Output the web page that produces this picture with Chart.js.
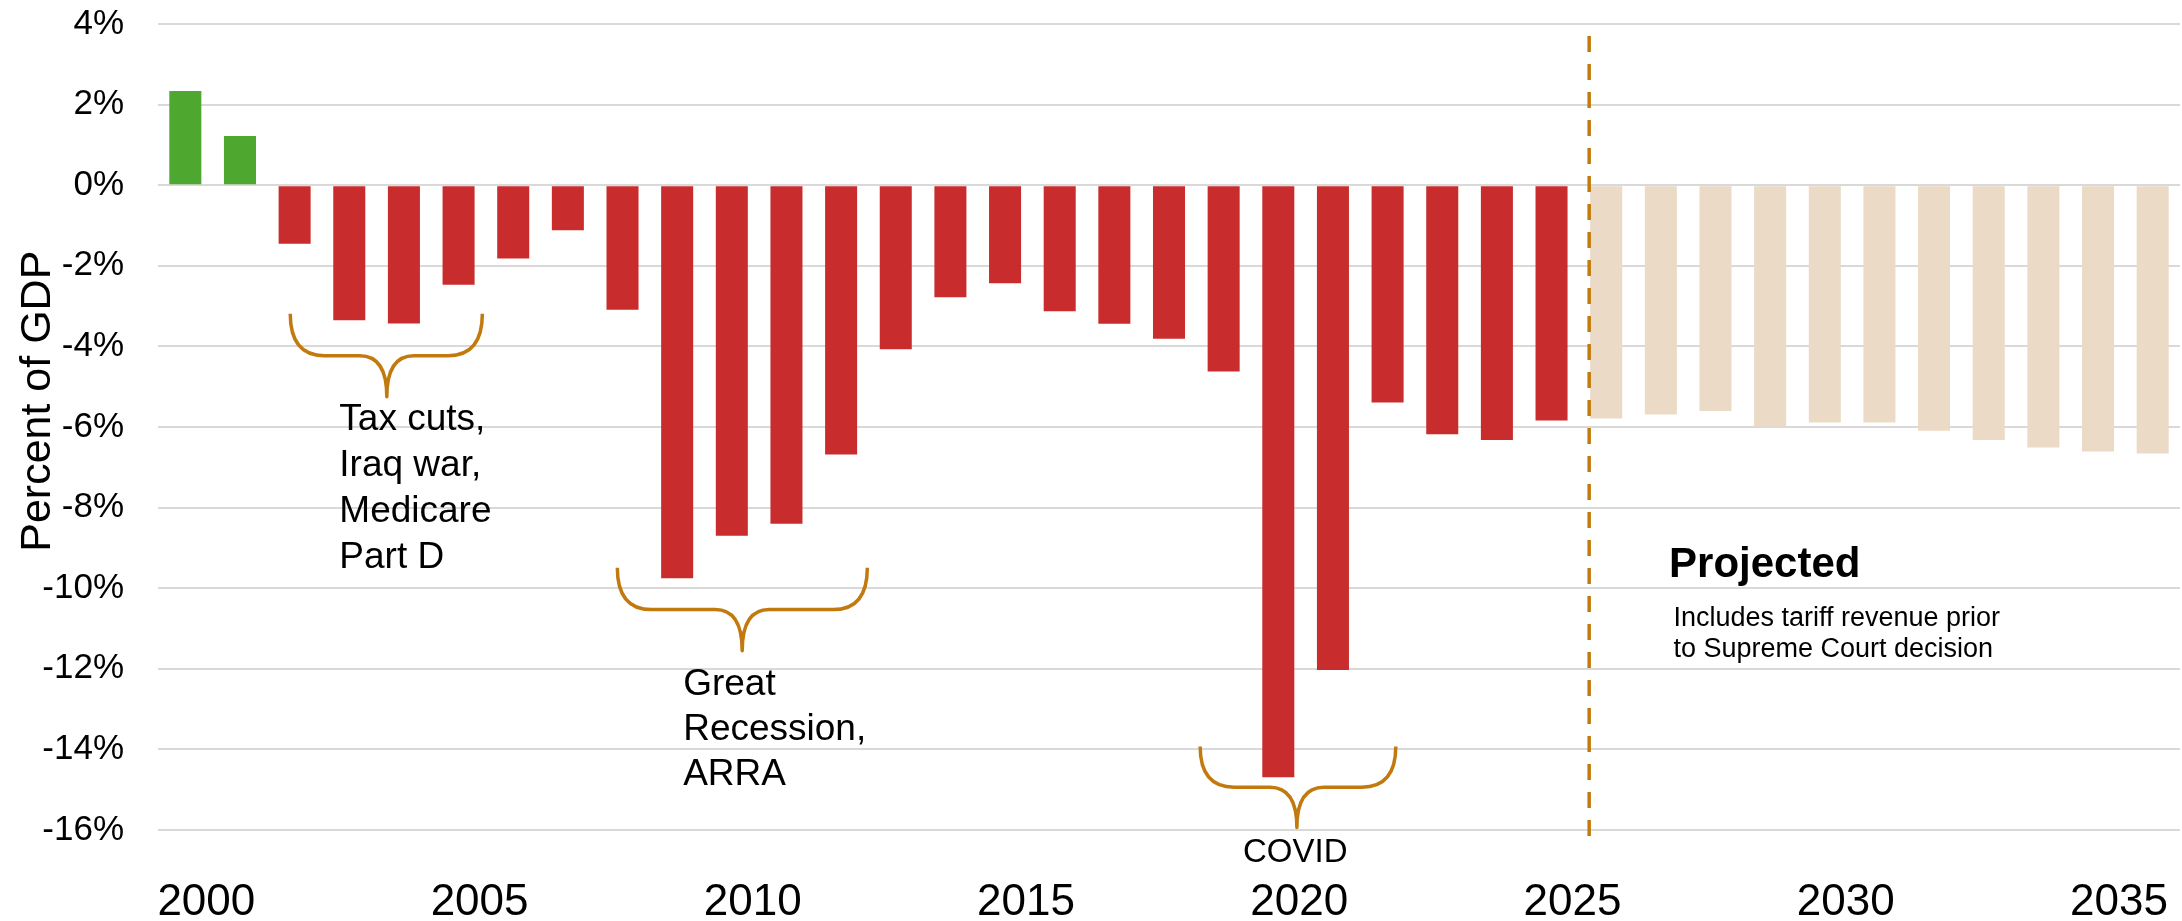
<!DOCTYPE html>
<html>
<head>
<meta charset="utf-8">
<script src="https://cdn.jsdelivr.net/npm/chart.js@4.4.1/dist/chart.umd.min.js"></script>
<style>
html,body{margin:0;padding:0;background:#ffffff;}
#wrap{width:2182px;height:921px;position:relative;}
</style>
</head>
<body>
<div id="wrap"><canvas id="c" width="2182" height="921"></canvas></div>
<script>
// ---- Data (percent of GDP) ----
const years = ['2000','2001','2002','2003','2004','2005','2006','2007','2008','2009',
  '2010','2011','2012','2013','2014','2015','2016','2017','2018','2019',
  '2020','2021','2022','2023','2024','2025','2026','2027','2028','2029',
  '2030','2031','2032','2033','2034','2035','2036'];
const actualYears = ['2000','2001','2002','2003','2004','2005','2006','2007','2008','2009',
  '2010','2011','2012','2013','2014','2015','2016','2017','2018','2019',
  '2020','2021','2022','2023','2024','2025'];
const actualBalance = [2.34, 1.22, -1.45, -3.35, -3.43, -2.47, -1.82, -1.12, -3.09, -9.75,
  -8.70, -8.40, -6.68, -4.07, -2.78, -2.43, -3.13, -3.44, -3.81, -4.62,
  -14.69, -12.03, -5.39, -6.18, -6.32, -5.84];
const projectedYears = ['2026','2027','2028','2029','2030','2031','2032','2033','2034','2035','2036'];
const projectedBalance = [-5.79, -5.69, -5.60, -5.99, -5.89, -5.89, -6.09, -6.32, -6.51, -6.61, -6.66];
const yTickValues = [4, 2, 0, -2, -4, -6, -8, -10, -12, -14, -16];
const xTickYears = ['2000','2005','2010','2015','2020','2025','2030','2035'];

// ---- Styles ----
const FONT = '"Liberation Sans", Arial, Helvetica, sans-serif';
const GREEN = '#4ea72e';
const RED = '#c92c2c';
const TAN = '#ebdac5';
const AMBER = '#c27a0e';
const GRID = '#d9d9d9';

// Build series aligned to categories
const actualSeries = years.map(y => { const i = actualYears.indexOf(y); return i >= 0 ? actualBalance[i] : null; });
const projectedSeries = years.map(y => { const i = projectedYears.indexOf(y); return i >= 0 ? projectedBalance[i] : null; });

// Annotation geometry in data units (category index, percent)
const braces = [
  {from: 1.92, to: 5.435, tip: 3.687, top: -3.19, mid: -4.23, end: -5.25},
  {from: 7.905, to: 12.48, tip: 10.19, top: -9.49, mid: -10.53, end: -11.55},
  {from: 18.57, to: 22.15, tip: 20.34, top: -13.93, mid: -14.94, end: -15.94}
];
const notes = [
  {lines: ['Tax cuts,', 'Iraq war,', 'Medicare', 'Part D'], x: 2.818, y: -6.08, align: 'left', size: 37, weight: 'normal', lh: 46},
  {lines: ['Great', 'Recession,', 'ARRA'], x: 9.11, y: -12.64, align: 'left', size: 37, weight: 'normal', lh: 45},
  {lines: ['COVID'], x: 20.31, y: -16.80, align: 'center', size: 33, weight: 'normal', lh: 40},
  {lines: ['Projected'], x: 27.15, y: -9.71, align: 'left', size: 42, weight: 'bold', lh: 50},
  {lines: ['Includes tariff revenue prior', 'to Supreme Court decision'], x: 27.23, y: -10.94, align: 'left', size: 27, weight: 'normal', lh: 30.6}
];
const dividerTop = 3.7, dividerBottom = -16.15;
const yTitleCenter = -5.36;

const annotationPlugin = {
  id: 'annotations',
  afterDatasetsDraw(chart) {
    const ctx = chart.ctx;
    const xs = chart.scales.x, ys = chart.scales.y;
    // dashed divider at the start of the projection
    const pMeta = chart.getDatasetMeta(1);
    const firstProj = pMeta.data[years.indexOf(projectedYears[0])];
    const dx = firstProj.x - firstProj.width / 2 - 1;
    ctx.save();
    ctx.strokeStyle = AMBER;
    ctx.lineWidth = 3.5;
    ctx.setLineDash([16, 12]);
    ctx.beginPath();
    ctx.moveTo(dx, ys.getPixelForValue(dividerTop));
    ctx.lineTo(dx, ys.getPixelForValue(dividerBottom));
    ctx.stroke();
    ctx.restore();

    // braces
    ctx.save();
    ctx.strokeStyle = AMBER;
    ctx.lineWidth = 3.5;
    ctx.lineCap = 'butt';
    ctx.lineJoin = 'round';
    braces.forEach(b => {
      const x0 = xs.getPixelForValue(b.from), x1 = xs.getPixelForValue(b.to), xm = xs.getPixelForValue(b.tip);
      const yt = ys.getPixelForValue(b.top), ym = ys.getPixelForValue(b.mid), ye = ys.getPixelForValue(b.end);
      const rx = 34, rc = 27;
      ctx.beginPath();
      ctx.moveTo(x0, yt);
      ctx.quadraticCurveTo(x0, ym, x0 + rx, ym);
      ctx.lineTo(xm - rc, ym);
      ctx.quadraticCurveTo(xm, ym, xm, ye);
      ctx.quadraticCurveTo(xm, ym, xm + rc, ym);
      ctx.lineTo(x1 - rx, ym);
      ctx.quadraticCurveTo(x1, ym, x1, yt);
      ctx.stroke();
    });
    ctx.restore();

    // text notes
    ctx.save();
    ctx.fillStyle = '#000000';
    ctx.textBaseline = 'alphabetic';
    notes.forEach(n => {
      ctx.font = `${n.weight} ${n.size}px ${FONT}`;
      ctx.textAlign = n.align;
      const x = xs.getPixelForValue(n.x);
      const y = ys.getPixelForValue(n.y);
      n.lines.forEach((line, i) => ctx.fillText(line, x, y + i * n.lh));
    });
    ctx.restore();
  },
  afterDraw(chart) {
    const ctx = chart.ctx;
    const ys = chart.scales.y;
    ctx.save();
    ctx.fillStyle = '#000000';
    ctx.font = `normal 43px ${FONT}`;
    ctx.textAlign = 'center';
    ctx.textBaseline = 'alphabetic';
    ctx.translate(50, ys.getPixelForValue(yTitleCenter));
    ctx.rotate(-Math.PI / 2);
    ctx.fillText('Percent of GDP', 0, 0);
    ctx.restore();
  }
};

new Chart(document.getElementById('c'), {
  type: 'bar',
  data: {
    labels: years,
    datasets: [
      {
        label: 'Actual',
        data: actualSeries,
        backgroundColor: c => (c.raw !== null && c.raw >= 0) ? GREEN : RED,
        grouped: false,
        borderWidth: 0
      },
      {
        label: 'Projected',
        data: projectedSeries,
        backgroundColor: TAN,
        grouped: false,
        borderWidth: 0
      }
    ]
  },
  options: {
    responsive: false,
    devicePixelRatio: 1,
    animation: false,
    barPercentage: 0.586,
    categoryPercentage: 1,
    layout: {padding: {top: 24, right: 2, bottom: 0, left: 0}},
    plugins: {legend: {display: false}, tooltip: {enabled: false}, title: {display: false}},
    scales: {
      x: {
        type: 'category',
        offset: true,
        grid: {display: false, drawTicks: false},
        border: {display: false},
        ticks: {
          autoSkip: false,
          maxRotation: 0,
          minRotation: 0,
          padding: 46,
          labelOffset: 21,
          color: '#000000',
          font: {family: FONT, size: 44},
          callback: function(v, i) { const y = this.getLabelForValue(v); return xTickYears.includes(y) ? y : ''; }
        },
        afterFit: s => { s.height = 91; s.paddingLeft = 0; s.paddingRight = 0; }
      },
      y: {
        min: -16,
        max: 4,
        grid: {color: GRID, lineWidth: 2, drawTicks: false},
        border: {display: false},
        afterBuildTicks: s => { s.ticks = yTickValues.map(v => ({value: v})); },
        ticks: {
          padding: 34,
          color: '#000000',
          font: {family: FONT, size: 35},
          callback: v => v + '%'
        },
        afterFit: s => { s.width = 158; s.paddingTop = 0; s.paddingBottom = 0; }
      }
    }
  },
  plugins: [annotationPlugin]
});
</script>
</body>
</html>
